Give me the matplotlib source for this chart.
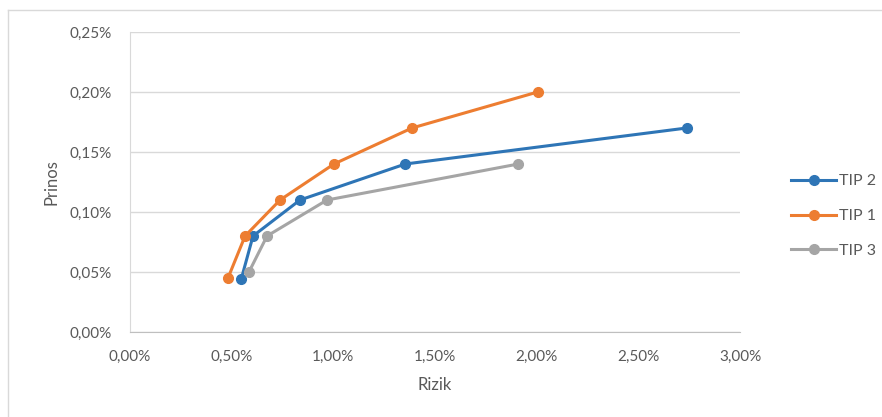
import matplotlib.pyplot as plt
from matplotlib.lines import Line2D
from matplotlib.ticker import FuncFormatter

# risk (x, %) and return (y, %) for each type
tip2_x = [0.547, 0.605, 0.836, 1.354, 2.738]
tip2_y = [0.044, 0.080, 0.110, 0.140, 0.170]
tip1_x = [0.482, 0.566, 0.738, 1.003, 1.387, 2.005]
tip1_y = [0.045, 0.080, 0.110, 0.140, 0.170, 0.200]
tip3_x = [0.585, 0.674, 0.969, 1.910]
tip3_y = [0.050, 0.080, 0.110, 0.140]

series = [("TIP 2", tip2_x, tip2_y, "#2E75B6"),
          ("TIP 1", tip1_x, tip1_y, "#ED7D31"),
          ("TIP 3", tip3_x, tip3_y, "#A5A5A5")]

plt.rcParams['font.family'] = ['Lato', 'DejaVu Sans']
txt = "#595959"

fig = plt.figure(figsize=(8.82, 4.17), dpi=100)
ax = fig.add_axes([130/882, 1-332/417, 610/882, 300/417])

for name, xs, ys, c in series:
    ax.plot(xs, ys, color=c, lw=2.2, marker='o', markersize=7, label=name)

ax.set_xlim(0, 3.0)
ax.set_ylim(0, 0.25)
ax.set_xticks([0, 0.5, 1.0, 1.5, 2.0, 2.5, 3.0])
ax.set_yticks([0, 0.05, 0.10, 0.15, 0.20, 0.25])
pct = FuncFormatter(lambda v, p: f"{v:.2f}%".replace('.', ','))
ax.xaxis.set_major_formatter(pct)
ax.yaxis.set_major_formatter(pct)
ax.tick_params(length=0, labelsize=11, labelcolor=txt)
ax.tick_params(axis='y', pad=13)
ax.tick_params(axis='x', pad=13)
ax.grid(axis='y', color='#D9D9D9', lw=1)
ax.set_axisbelow(True)
for s in ['top', 'right']:
    ax.spines[s].set_visible(False)
ax.spines['left'].set_color('#D9D9D9')
ax.spines['bottom'].set_color('#BFBFBF')

ax.set_xlabel("Rizik", fontsize=12, color=txt, labelpad=9)
ax.set_ylabel("Prinos", fontsize=12, color=txt, labelpad=7)

handles = [Line2D([], [], color=c, lw=2.2, marker='o', markersize=7) for _, _, _, c in series]
fig.legend(handles, [s[0] for s in series], loc='center left',
           bbox_to_anchor=(777/882, 1-216/417), frameon=False, fontsize=11.5,
           labelcolor=txt, handlelength=2.8, handletextpad=0.2, labelspacing=1.3)

# chart area border (only top and left visible)
fig.add_artist(Line2D([8/882, 1], [1-10/417, 1-10/417], color='#D9D9D9', lw=1))
fig.add_artist(Line2D([8/882, 8/882], [0, 1-10/417], color='#D9D9D9', lw=1))

fig.savefig("out.png", dpi=100)
